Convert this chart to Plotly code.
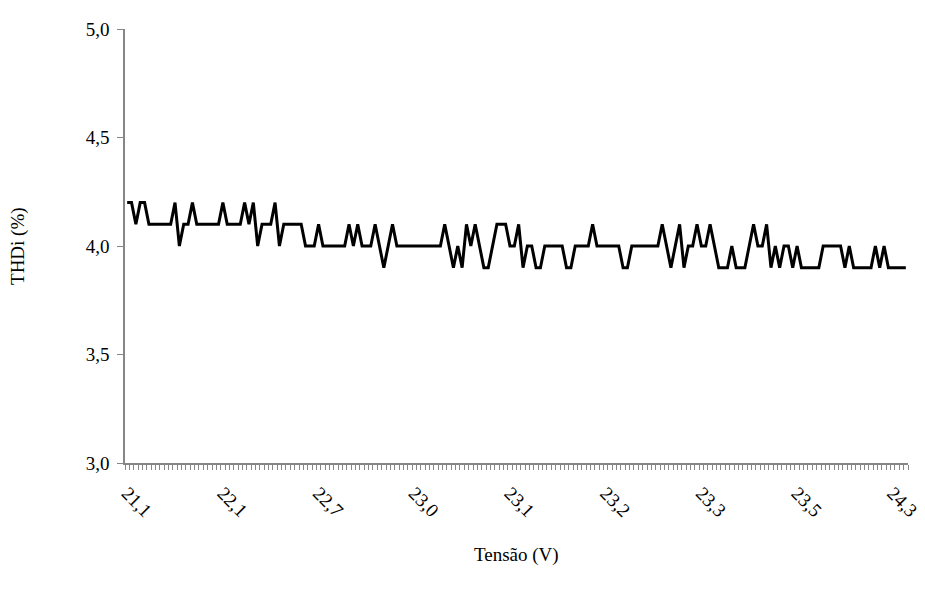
import plotly.graph_objects as go

thdi = [
    4.2, 4.2, 4.1, 4.2, 4.2, 4.1, 4.1, 4.1, 4.1, 4.1,
    4.1, 4.2, 4.0, 4.1, 4.1, 4.2, 4.1, 4.1, 4.1, 4.1,
    4.1, 4.1, 4.2, 4.1, 4.1, 4.1, 4.1, 4.2, 4.1, 4.2,
    4.0, 4.1, 4.1, 4.1, 4.2, 4.0, 4.1, 4.1, 4.1, 4.1,
    4.1, 4.0, 4.0, 4.0, 4.1, 4.0, 4.0, 4.0, 4.0, 4.0,
    4.0, 4.1, 4.0, 4.1, 4.0, 4.0, 4.0, 4.1, 4.0, 3.9,
    4.0, 4.1, 4.0, 4.0, 4.0, 4.0, 4.0, 4.0, 4.0, 4.0,
    4.0, 4.0, 4.0, 4.1, 4.0, 3.9, 4.0, 3.9, 4.1, 4.0,
    4.1, 4.0, 3.9, 3.9, 4.0, 4.1, 4.1, 4.1, 4.0, 4.0,
    4.1, 3.9, 4.0, 4.0, 3.9, 3.9, 4.0, 4.0, 4.0, 4.0,
    4.0, 3.9, 3.9, 4.0, 4.0, 4.0, 4.0, 4.1, 4.0, 4.0,
    4.0, 4.0, 4.0, 4.0, 3.9, 3.9, 4.0, 4.0, 4.0, 4.0,
    4.0, 4.0, 4.0, 4.1, 4.0, 3.9, 4.0, 4.1, 3.9, 4.0,
    4.0, 4.1, 4.0, 4.0, 4.1, 4.0, 3.9, 3.9, 3.9, 4.0,
    3.9, 3.9, 3.9, 4.0, 4.1, 4.0, 4.0, 4.1, 3.9, 4.0,
    3.9, 4.0, 4.0, 3.9, 4.0, 3.9, 3.9, 3.9, 3.9, 3.9,
    4.0, 4.0, 4.0, 4.0, 4.0, 3.9, 4.0, 3.9, 3.9, 3.9,
    3.9, 3.9, 4.0, 3.9, 4.0, 3.9, 3.9, 3.9, 3.9, 3.9,
]

# Category labels shown on the x axis (every 22nd category)
x_label_index = [0, 22, 44, 66, 88, 110, 132, 154, 176]
x_label_text = ["21,1", "22,1", "22,7", "23,0", "23,1", "23,2", "23,3", "23,5", "24,3"]

y_tick_values = [3.0, 3.5, 4.0, 4.5, 5.0]
y_tick_text = ["3,0", "3,5", "4,0", "4,5", "5,0"]

x = list(range(len(thdi)))
# tick marks sit between categories (one per category boundary)
category_bounds = [i - 0.5 for i in range(len(thdi) + 1)]

FONT = "Liberation Serif, Times New Roman, serif"
AXIS_GREY = "#868686"

fig = go.Figure(
    go.Scatter(
        x=x,
        y=thdi,
        mode="lines",
        line=dict(color="black", width=3),
        hoverinfo="x+y",
        showlegend=False,
    )
)

fig.update_layout(
    width=917,
    height=588,
    margin=dict(l=117, r=17, t=21, b=133, autoexpand=False),
    paper_bgcolor="white",
    plot_bgcolor="white",
    font=dict(family=FONT, size=19, color="black"),
    annotations=[
        dict(
            text="Tensão (V)",
            x=0.5, xref="paper",
            y=-0.212, yref="paper",
            xanchor="center", yanchor="middle",
            showarrow=False,
            font=dict(family=FONT, size=19, color="black"),
        ),
        dict(
            text="THDi (%)",
            x=-0.1367, xref="paper",
            y=0.5, yref="paper",
            xanchor="center", yanchor="middle",
            textangle=-90,
            showarrow=False,
            font=dict(family=FONT, size=19, color="black"),
        ),
    ],
)

fig.update_xaxes(
    range=[-0.5, len(thdi) - 0.5],
    showline=True,
    linecolor=AXIS_GREY,
    linewidth=1.5,
    showgrid=False,
    zeroline=False,
    ticks="",
    tickmode="array",
    tickvals=x_label_index,
    ticktext=x_label_text,
    tickangle=45,
    ticklabelstandoff=10,
    tickfont=dict(family=FONT, size=19, color="black"),
    minor=dict(
        ticks="outside",
        ticklen=5,
        tickwidth=1,
        tickcolor=AXIS_GREY,
        tickmode="array",
        tickvals=category_bounds,
        showgrid=False,
    ),
)

fig.update_yaxes(
    range=[3.0, 5.0],
    showline=True,
    linecolor=AXIS_GREY,
    linewidth=1.5,
    showgrid=False,
    zeroline=False,
    ticks="outside",
    ticklen=6,
    tickwidth=1,
    tickcolor=AXIS_GREY,
    tickmode="array",
    tickvals=y_tick_values,
    ticktext=y_tick_text,
    ticklabelstandoff=4,
    tickfont=dict(family=FONT, size=19, color="black"),
)

fig.write_html("out.html")
